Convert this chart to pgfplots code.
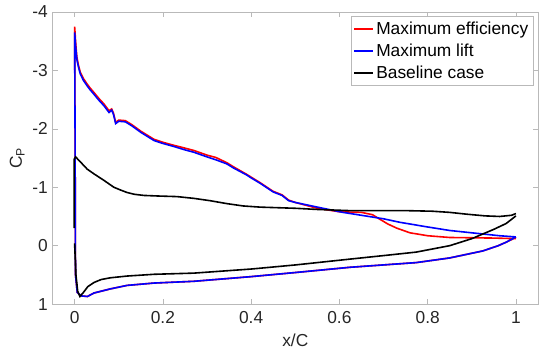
\documentclass[border=0pt]{standalone}
\usepackage{pgfplots}
\pgfplotsset{compat=1.18}
\usepackage{fontspec}
\setmainfont{Liberation Sans}
\begin{document}
\begin{tikzpicture}
\begin{axis}[
  at={(0,0)}, anchor=south west,
  scale only axis, width=364pt, height=219pt,
  xmin=-0.05, xmax=1.05, ymin=-4, ymax=1, y dir=reverse,
  xtick={0,0.2,0.4,0.6,0.8,1}, ytick={-4,-3,-2,-1,0,1},
  xticklabels={0,0.2,0.4,0.6,0.8,1},
  yticklabels={-4,-3,-2,-1,0,1},
  tick align=inside, major tick length=3.75pt,
  axis line style={gray!55}, every tick/.style={gray!55},
  tick label style={font=\fontsize{13}{15}\selectfont, text=black!85},
  xticklabel style={yshift=-2pt},
  label style={font=\fontsize{13}{15}\selectfont, text=black!85},
  xlabel={x/C}, ylabel={C\textsubscript{P}},
  xlabel style={yshift=-1pt},
  ylabel style={yshift=-1pt},
  unbounded coords=jump,
  legend style={at={(0.99,0.985)}, anchor=north east, draw=gray!55,
    font=\fontsize{13}{15}\selectfont, inner xsep=1.5pt, inner ysep=2pt,
    row sep=1.5pt},
  legend cell align=left,
  legend image code/.code={\draw[#1, line width=1.2pt] (0pt,0pt) -- (14pt,0pt);},
]
\addplot[draw=red, line width=1.2pt] coordinates {
(1.0,-0.12)(0.95,-0.13)(0.85,-0.14)(0.80,-0.17)(0.76,-0.22)(0.73,-0.30)(0.71,-0.37)(0.69,-0.46)(0.675,-0.53)(0.65,-0.57)(0.60,-0.58)(0.55,-0.64)(0.50,-0.74)(0.485,-0.78)(0.47,-0.87)(0.45,-0.93)(0.42,-1.08)(0.39,-1.22)(0.36,-1.35)(0.345,-1.42)(0.32,-1.51)(0.30,-1.55)(0.27,-1.63)(0.25,-1.67)(0.224,-1.72)(0.20,-1.77)(0.18,-1.82)(0.15,-1.96)(0.13,-2.07)(0.115,-2.14)(0.10,-2.15)(0.093,-2.11)(0.088,-2.27)(0.084,-2.34)(0.078,-2.31)(0.066,-2.43)(0.055,-2.52)(0.043,-2.63)(0.035,-2.70)(0.028,-2.77)(0.02,-2.86)(0.0128,-2.97)(0.009,-3.08)(0.0053,-3.22)(0.0035,-3.37)(0.002,-3.52)(0.001,-3.65)(0.0,-3.75)
(0.001,-2.0)(0.002,0.5)(0.006,0.80)(0.015,0.86)(0.029,0.87)(0.044,0.81)(0.081,0.74)(0.119,0.68)(0.18,0.64)(0.27,0.61)(0.40,0.53)(0.50,0.46)(0.624,0.37)(0.774,0.29)(0.85,0.21)(0.925,0.09)(0.96,0.0)(0.978,-0.06)(1.0,-0.14)};
\addlegendentry{Maximum efficiency}
\addplot[draw=blue, line width=1.2pt] coordinates {
(1.0,-0.15)(0.963,-0.17)(0.90,-0.22)(0.85,-0.26)(0.80,-0.32)(0.737,-0.40)(0.70,-0.46)(0.65,-0.52)(0.608,-0.57)(0.55,-0.66)(0.50,-0.74)(0.485,-0.77)(0.47,-0.86)(0.45,-0.92)(0.42,-1.07)(0.398,-1.17)(0.39,-1.21)(0.36,-1.33)(0.345,-1.40)(0.32,-1.47)(0.30,-1.52)(0.27,-1.60)(0.25,-1.64)(0.224,-1.70)(0.20,-1.75)(0.18,-1.80)(0.15,-1.94)(0.13,-2.05)(0.115,-2.12)(0.10,-2.13)(0.093,-2.09)(0.088,-2.25)(0.084,-2.32)(0.078,-2.28)(0.066,-2.40)(0.055,-2.49)(0.043,-2.60)(0.035,-2.67)(0.028,-2.74)(0.02,-2.83)(0.0128,-2.94)(0.009,-3.05)(0.0053,-3.18)(0.0035,-3.31)(0.002,-3.44)(0.001,-3.56)(0.0,-3.65)
(0.001,-2.0)(0.002,0.5)(0.006,0.80)(0.015,0.86)(0.029,0.87)(0.044,0.81)(0.081,0.74)(0.119,0.68)(0.18,0.64)(0.27,0.61)(0.40,0.53)(0.50,0.46)(0.624,0.37)(0.774,0.29)(0.85,0.21)(0.925,0.09)(0.96,0.0)(0.978,-0.06)(1.0,-0.15)};
\addlegendentry{Maximum lift}
\addplot[draw=black, line width=1.2pt] coordinates {
(1.0,-0.55)(0.99,-0.52)(0.963,-0.50)(0.93,-0.51)(0.887,-0.54)(0.85,-0.57)(0.81,-0.59)(0.75,-0.60)(0.70,-0.60)(0.624,-0.60)(0.55,-0.62)(0.50,-0.64)(0.42,-0.66)(0.382,-0.68)(0.345,-0.72)(0.307,-0.77)(0.27,-0.81)(0.232,-0.84)(0.19,-0.85)(0.157,-0.86)(0.135,-0.88)(0.119,-0.91)(0.105,-0.95)(0.089,-1.00)(0.066,-1.12)(0.0437,-1.23)(0.0286,-1.31)(0.0136,-1.43)(0.006,-1.49)(0.0023,-1.52)(-0.001,-1.48)
(-0.001,-0.3)(nan,nan)(0.0,-0.04)(0.003,0.5)(0.007,0.78)(0.012,0.87)(0.02,0.80)(0.03,0.70)(0.044,0.63)(0.06,0.58)(0.081,0.55)(0.119,0.52)(0.18,0.49)(0.27,0.47)(0.40,0.40)(0.50,0.33)(0.624,0.23)(0.70,0.17)(0.774,0.11)(0.85,0.0)(0.90,-0.12)(0.925,-0.2)(0.95,-0.28)(0.978,-0.38)(1.0,-0.51)};
\addlegendentry{Baseline case}
\end{axis}
\pgfresetboundingbox
\path (-39.4pt,-38.25pt) rectangle (373pt,228pt);
\end{tikzpicture}
\end{document}
